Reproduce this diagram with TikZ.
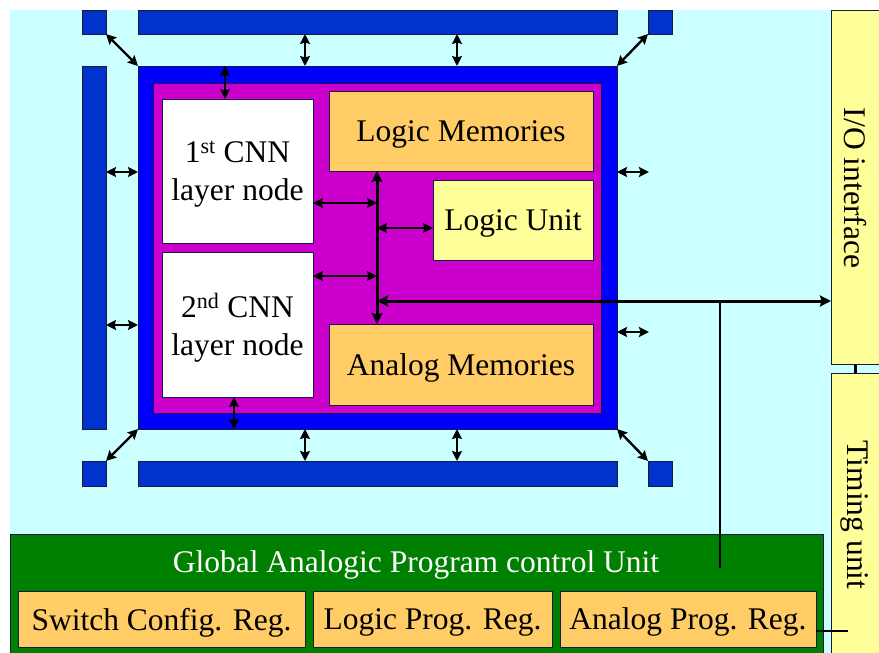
\documentclass[tikz,border=0pt]{standalone}
\usepackage{fontspec}
\setmainfont{Liberation Serif}
\usetikzlibrary{arrows.meta}
\definecolor{bgcyan}{HTML}{CCFFFF}
\definecolor{barblue}{HTML}{0033CC}
\definecolor{mainblue}{HTML}{0000FF}
\definecolor{magen}{HTML}{CC00CC}
\definecolor{orng}{HTML}{FFCC66}
\definecolor{lyel}{HTML}{FFFF99}
\definecolor{grn}{HTML}{008000}
\definecolor{edgec}{HTML}{1A1A40}
\newcommand\mkbox[7]{\node[#2, anchor=north west, inner sep=0pt, outer sep=0pt,
  minimum width={(#5-#3)*1pt}, minimum height={(#6-#4)*1pt}] (#1) at (#3,#4) {#7};}
\tikzset{
  blk/.style={draw=edgec, line width=0.8pt},
  bar/.style={blk, fill=barblue},
  txt/.style={font=\fontsize{31.5}{38}\selectfont, align=center},
  btxt/.style={txt, text depth=0pt},
  dar/.style={line width=2.4pt, {Stealth[length=10pt,width=10pt,inset=1.5pt]}-{Stealth[length=10pt,width=10pt,inset=1.5pt]}},
  busarr/.style={line width=3pt, {Stealth[length=11pt,width=11pt,inset=1.5pt]}-{Stealth[length=11pt,width=11pt,inset=1.5pt]}},
}
\begin{document}
\begin{tikzpicture}[x=1pt,y=-1pt]
\useasboundingbox (0,0) rectangle (879,653);
\clip (0,0) rectangle (879,653);
\fill[white] (0,0) rectangle (879,653);
\fill[bgcyan] (10,10) rectangle (890,660);
% main block
\mkbox{main}{blk, fill=mainblue}{138}{66}{617}{429}{}
\mkbox{mg}{blk, fill=magen}{153}{83}{601}{413}{}
% bars
\mkbox{tl}{bar}{82}{10}{106}{34}{}
\mkbox{topbar}{bar}{138}{10}{617}{34}{}
\mkbox{tr}{bar}{648}{10}{672}{34}{}
\mkbox{leftbar}{bar}{82}{66}{106}{429}{}
\mkbox{bl}{bar}{82}{461}{106}{486}{}
\mkbox{botbar}{bar}{138}{461}{617}{486}{}
\mkbox{br}{bar}{648}{461}{672}{486}{}
% inner boxes
\mkbox{cnn1}{blk, fill=white, btxt}{162}{99}{313}{243}{1\textsuperscript{st} CNN\\layer node}
\mkbox{cnn2}{blk, fill=white, btxt}{162}{252}{313}{397}{2\textsuperscript{nd} CNN\\layer node}
\mkbox{lmem}{blk, fill=orng, btxt}{329}{91}{593}{171}{Logic Memories}
\mkbox{lunit}{blk, fill=lyel, btxt}{433}{180}{593}{260}{Logic Unit}
\mkbox{amem}{blk, fill=orng, btxt}{329}{324}{593}{405}{Analog Memories}
% right side
\mkbox{io}{blk, fill=lyel}{831}{10}{895}{364}{}
\mkbox{timing}{blk, fill=lyel}{831}{373}{895}{665}{}
\node[txt, rotate=-90] (iotxt) at (855,188) {I/O interface};
\node[txt, rotate=-90] (tmtxt) at (855,515) {Timing unit};
% global unit
\mkbox{gapcu}{blk, fill=grn}{10}{534}{823}{665}{}
\node[btxt, text=white] (gtxt) at (416,562) {Global Analogic Program control Unit};
\mkbox{sw}{blk, fill=orng, btxt}{18}{591}{305}{647}{Switch Config. Reg.}
\mkbox{lp}{blk, fill=orng, btxt}{313}{591}{552}{647}{Logic Prog. Reg.}
\mkbox{ap}{blk, fill=orng, btxt}{560}{591}{816}{647}{Analog Prog. Reg.}
% helper coordinates
\coordinate (xa) at (305,0);
\coordinate (xb) at (457,0);
\coordinate (xc) at (225,0);
\coordinate (xd) at (234,0);
\coordinate (xbus) at (377,0);
\coordinate (xio) at (855,0);
\coordinate (ya) at (0,172);
\coordinate (yb) at (0,325);
\coordinate (y1) at (0,203);
\coordinate (y2) at (0,228);
\coordinate (y3) at (0,276);
\coordinate (y4) at (0,301);
\coordinate (y5) at (0,631);
\coordinate (rA) at (649,172);
\coordinate (rB) at (649,332);
\coordinate (tap) at (720,301);
\coordinate (tapend) at (720,568);
\coordinate (lend) at (848,631);
% outer arrows
\draw[dar] (topbar.south -| xa) -- (main.north -| xa);
\draw[dar] (topbar.south -| xb) -- (main.north -| xb);
\draw[dar] (main.south -| xa) -- (botbar.north -| xa);
\draw[dar] (main.south -| xb) -- (botbar.north -| xb);
\draw[dar] (tl.south east) -- (main.north west);
\draw[dar] (tr.south west) -- (main.north east);
\draw[dar] (bl.north east) -- (main.south west);
\draw[dar] (br.north west) -- (main.south east);
\draw[dar] (leftbar.east |- ya) -- (main.west |- ya);
\draw[dar] (leftbar.east |- yb) -- (main.west |- yb);
\draw[dar] (main.east |- rA) -- (rA);
\draw[dar] (main.east |- rB) -- (rB);
\draw[dar] (main.north -| xc) -- (cnn1.north -| xc);
\draw[dar] (cnn2.south -| xd) -- (main.south -| xd);
% inner bus
\draw[busarr] (lmem.south -| xbus) -- (amem.north -| xbus);
\draw[dar] (cnn1.east |- y1) -- (xbus |- y1);
\draw[dar] (xbus |- y2) -- (lunit.west |- y2);
\draw[dar] (cnn2.east |- y3) -- (xbus |- y3);
\draw[busarr] (xbus |- y4) -- (io.west |- y4);
\draw[line width=2.2pt] (tap) -- (tapend);
\draw[line width=3pt] (io.south -| xio) -- (timing.north -| xio);
\draw[line width=2.5pt] (ap.east |- y5) -- (lend);
\end{tikzpicture}
\end{document}
